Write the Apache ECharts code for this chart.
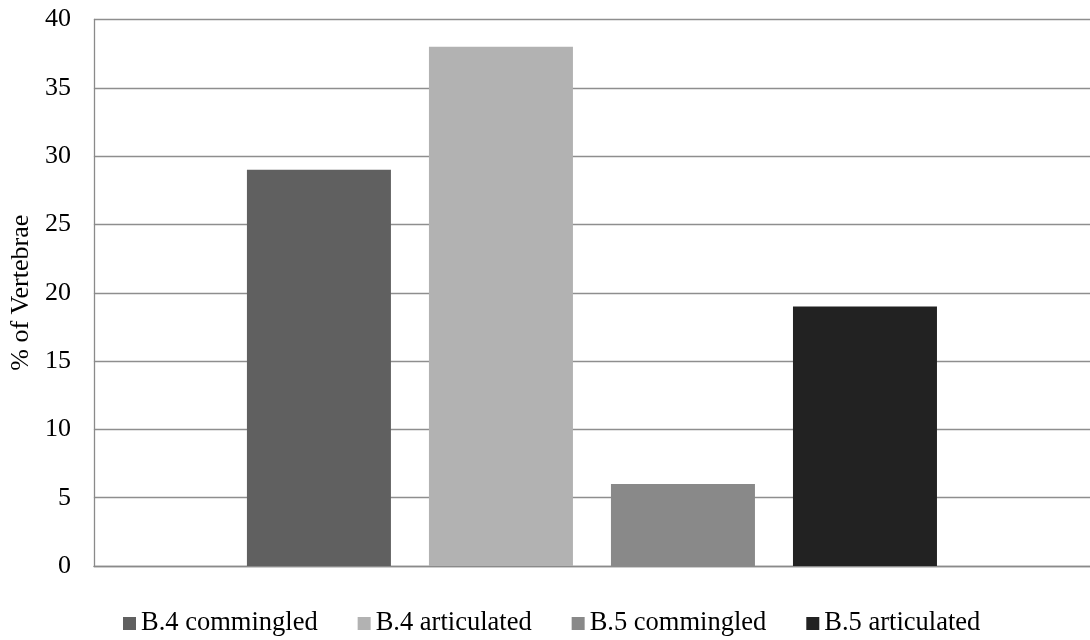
<!DOCTYPE html>
<html>
<head>
<meta charset="utf-8">
<title>% of Vertebrae</title>
<script src="https://cdn.jsdelivr.net/npm/echarts@6/dist/echarts.min.js"></script>
<style>
  html, body { margin: 0; padding: 0; background: #ffffff; }
  #chart { width: 1090px; height: 640px; }
</style>
</head>
<body>
<div id="chart"></div>
<script>
// Share of vertebrae per burial context
const seriesNames = ['B.4 commingled', 'B.4 articulated', 'B.5 commingled', 'B.5 articulated'];
const seriesValues = [29, 38, 6, 19];
const seriesColors = ['#606060', '#b2b2b2', '#898989', '#222222'];
const categories = [''];
const yTicks = { min: 0, max: 40, interval: 5 };

const FONT = '"Liberation Serif", "Times New Roman", serif';

const chart = echarts.init(document.getElementById('chart'), null, { renderer: 'canvas' });

const series = seriesNames.map((name, i) => ({
  name: name,
  type: 'bar',
  data: [seriesValues[i]],
  barWidth: 144,
  barGap: '26.4%',
  itemStyle: { color: seriesColors[i] },
  emphasis: { disabled: true }
}));

chart.setOption({
  animation: false,
  backgroundColor: '#ffffff',
  textStyle: { fontFamily: FONT },
  // plot area runs on past the right edge of the canvas
  grid: { left: 93, width: 1007, top: 19.5, bottom: 74, containLabel: false },
  legend: {
    data: seriesNames,
    left: 118,
    top: 605,
    itemWidth: 13,
    itemHeight: 13,
    itemGap: 40,
    icon: 'rect',
    textStyle: { fontFamily: FONT, fontSize: 26.5, color: '#000000' },
    selectedMode: false
  },
  xAxis: {
    type: 'category',
    data: categories,
    axisLine: { show: true, lineStyle: { color: '#8a8a8a', width: 1.3 } },
    axisTick: { show: false },
    axisLabel: { show: false },
    splitLine: { show: false }
  },
  yAxis: {
    type: 'value',
    min: yTicks.min,
    max: yTicks.max,
    interval: yTicks.interval,
    name: '% of Vertebrae',
    nameLocation: 'middle',
    nameRotate: 90,
    nameGap: 54,
    nameTextStyle: { fontFamily: FONT, fontSize: 26, color: '#000000' },
    axisLine: { show: true, lineStyle: { color: '#8a8a8a', width: 1.3 } },
    axisTick: { show: false },
    axisLabel: { fontFamily: FONT, fontSize: 26, color: '#000000', margin: 23 },
    splitLine: { show: true, lineStyle: { color: '#8e8e8e', width: 1.3 } }
  },
  series: series
});
</script>
</body>
</html>
